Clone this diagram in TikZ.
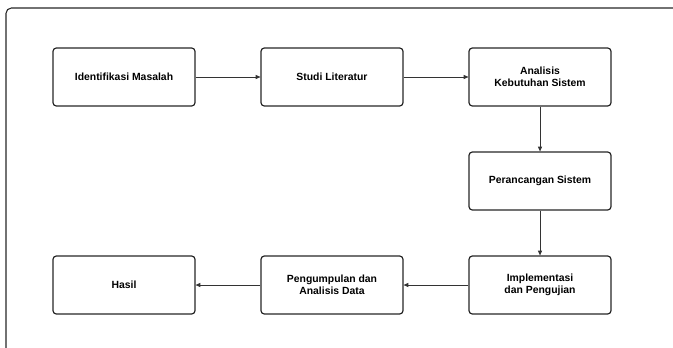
\documentclass[tikz,border=0pt]{standalone}
\usepackage{fontspec}
\setmainfont{Liberation Sans}
\usetikzlibrary{arrows.meta}
\tikzstyle{process}=[draw=black!85,line width=0.9pt,rounded corners=2.5pt,minimum width=106.5pt,minimum height=43.5pt,inner sep=2pt,align=center,font=\fontsize{7.8}{9}\selectfont\bfseries]
\tikzstyle{flow}=[-{Triangle[length=3.5pt,width=3pt]},line width=0.5pt,draw=black!80]
\newcommand{\colstep}{156pt}
\newcommand{\rowstep}{78pt}

\begin{document}
\begin{tikzpicture}[x=\colstep,y=-\rowstep]
    \useasboundingbox (-93pt,57.75pt) rectangle (411.75pt,-202.5pt);
%    frame, cut off at the right and bottom
    \draw[black!85,line width=0.8pt,rounded corners=4pt] (440pt,51.75pt) -- (-88.5pt,51.75pt) -- (-88.5pt,-220pt);
    \node[process] (00) at (0,0) {Identifikasi Masalah};
    \node[process] (10) at (1,0) {Studi Literatur};
    \node[process] (20) at (2,0) {Analisis\\Kebutuhan Sistem};
    \node[process] (21) at (2,1) {Perancangan Sistem};
    \node[process] (22) at (2,2) {Implementasi\\dan Pengujian};
    \node[process] (12) at (1,2) {Pengumpulan dan\\Analisis Data};
    \node[process] (02) at (0,2) {Hasil};
    \draw[flow] (00) -- (10);
    \draw[flow] (10) -- (20);
    \draw[flow] (20) -- (21);
    \draw[flow] (21) -- (22);
    \draw[flow] (22) -- (12);
    \draw[flow] (12) -- (02);
\end{tikzpicture}
\end{document}
